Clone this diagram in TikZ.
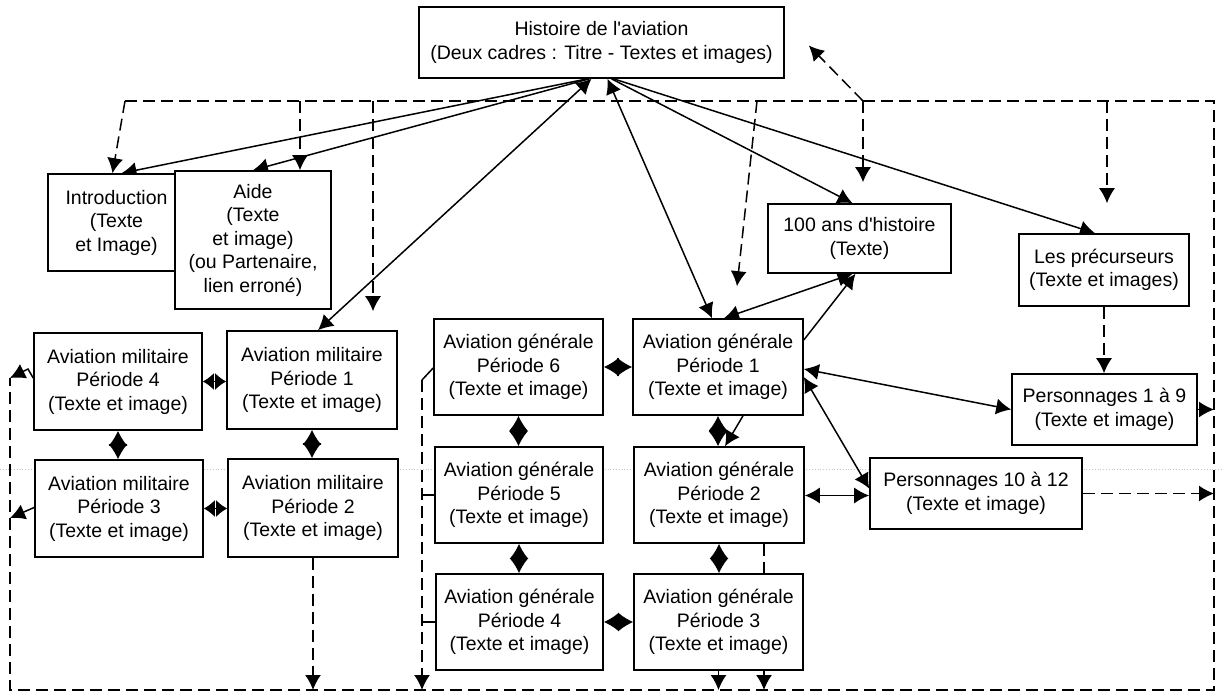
\documentclass[tikz,border=0pt]{standalone}
\usepackage{fontspec}
\setmainfont{Liberation Sans}
\usetikzlibrary{arrows.meta,calc,backgrounds}
\tikzset{
  bigtip/.tip={Latex[length=15pt 0 0,width=16pt 0 0]},
  diatip/.tip={Latex[length=15pt 0 0,width=19pt 0 0]},
  shortdiatip/.tip={Latex[length=11pt 0 0,width=17pt 0 0]},
}
\begin{document}
\begin{tikzpicture}[x=1pt,y=-1pt,
  box/.style={draw, fill=white, line width=1.6pt, align=center, inner sep=1pt,
    font=\fontsize{19.5}{23.5}\selectfont},
  >=bigtip,
  conn/.style={line width=1.5pt},
  dia/.style={conn, diatip-diatip},
  shortdia/.style={conn, shortdiatip-shortdiatip},
  dsh/.style={conn, dash pattern=on 12pt off 6pt},
]
\useasboundingbox (0,0) rectangle (1224,695);

% nodes
\node[box, minimum width=365pt, minimum height=71pt] (top) at (601.5,42.5)
  {Histoire de l\textquotesingle aviation\\(Deux cadres : Titre - Textes et images)};
\node[box, minimum width=137pt, minimum height=97pt] (intro) at (116.5,222.5)
  {Introduction\\(Texte\\et Image)};
\node[box, minimum width=156pt, minimum height=138pt] (aide) at (253,240)
  {Aide\\(Texte\\et image)\\(ou Partenaire,\\lien erroné)};
\node[box, minimum width=183pt, minimum height=69pt] (hans) at (859.5,238.5)
  {100 ans d\textquotesingle histoire\\(Texte)};
\node[box, minimum width=170pt, minimum height=72pt] (prec) at (1104,270)
  {Les précurseurs\\(Texte et images)};
\node[box, minimum width=168pt, minimum height=97pt] (am4) at (118,381.5)
  {Aviation militaire\\Période 4\\(Texte et image)};
\node[box, minimum width=170pt, minimum height=98pt] (am1) at (312,380)
  {Aviation militaire\\Période 1\\(Texte et image)};
\node[box, minimum width=168pt, minimum height=97pt] (am3) at (119,508.5)
  {Aviation militaire\\Période 3\\(Texte et image)};
\node[box, minimum width=170pt, minimum height=98pt] (am2) at (313,508)
  {Aviation militaire\\Période 2\\(Texte et image)};
\node[box, minimum width=169pt, minimum height=96pt] (ag6) at (518.5,367)
  {Aviation générale\\Période 6\\(Texte et image)};
\node[box, minimum width=170pt, minimum height=96pt] (ag1) at (718,367)
  {Aviation générale\\Période 1\\(Texte et image)};
\node[box, minimum width=168pt, minimum height=96pt] (ag5) at (519,495)
  {Aviation générale\\Période 5\\(Texte et image)};
\node[box, minimum width=170pt, minimum height=96pt] (ag2) at (719,495)
  {Aviation générale\\Période 2\\(Texte et image)};
\node[box, minimum width=167pt, minimum height=96pt] (ag4) at (519.5,622)
  {Aviation générale\\Période 4\\(Texte et image)};
\node[box, minimum width=169pt, minimum height=96pt] (ag3) at (718.5,622)
  {Aviation générale\\Période 3\\(Texte et image)};
\node[box, minimum width=185pt, minimum height=71pt] (p19) at (1104.5,409.5)
  {Personnages 1 à 9\\(Texte et image)};
\node[box, minimum width=212pt, minimum height=71pt] (p1012) at (976,493.5)
  {Personnages 10 à 12\\(Texte et image)};

% frame coordinates
\coordinate (fTL) at (125,101);
\coordinate (fTR) at (1214,101);
\coordinate (fBR) at (1214,690);
\coordinate (fBL) at (10,690);
\coordinate (fL) at (10,378);
\coordinate (fa3) at (10,518);
\coordinate (am4k) at (28,369);
\coordinate (d1) at (300,101);
\coordinate (d2) at (373,101);
\coordinate (d3) at (757,101);
\coordinate (d4) at (863,101);
\coordinate (d5) at (1107,101);
\coordinate (gL) at (422,380);

\begin{pgfonlayer}{background}
\fill[white] (0,0) rectangle (1224,695);
\draw[gray!45, dotted, line width=0.8pt] (0,469) -- (1224,469);

% dashed frame
\draw[dsh] (fTL) -- (fTR) -- (fBR) -- (fBL) -- (fL);
\draw[dsh,->] (fTL) -- ([xshift=-4]intro.north);
\draw[dsh,->] (d1) -- (d1 |- aide.north);
\draw[dsh,->,shorten >=19pt] (d2) -- (d2 |- am1.north);
\draw[dsh,->] (d3) -- ([xshift=19,yshift=32]ag1.north);
\draw[dsh,->] (d4) -- ([xshift=24,yshift=-3]top.east);
\draw[dsh,->,shorten >=21pt] (d4) -- (d4 |- hans.north);
\draw[dsh,->,shorten >=30pt] (d5) -- (d5 |- prec.north);
\draw[dsh,->] (prec.south) -- (prec.south |- p19.north);
\draw[conn,->] (p19.east) -- (p19.east -| fTR);
\draw[dsh,->] (p1012.east) -- (p1012.east -| fTR);
\draw[dsh,->] (am2.south) -- (am2.south |- fBL);
\draw[conn,->] ([yshift=1]am3.west) -- (fa3);
\draw[conn,->] ([yshift=3.5]am4.west) -- (am4k) -- (fL);
\draw[conn] ([yshift=-1]ag6.west) -- (gL);
\draw[dsh,->] (gL) -- (gL |- fBL);
\draw[conn] (ag5.west) -- (ag5.west -| gL);
\draw[conn] (ag4.west) -- (ag4.west -| gL);
\draw[dsh,->] ([xshift=45]ag2.south) -- ([xshift=45]ag2.south |- fBL);
\draw[conn,->] (ag3.south) -- (ag3.south |- fBL);

% from the title
\draw[conn,->] ([xshift=-14]top.south) -- ([xshift=5]intro.north);
\draw[conn,->] ([xshift=-12]top.south) -- (aide.north);
\draw[conn,<->] ([xshift=-10]top.south) -- ([xshift=6]am1.north);
\draw[conn,<->] ([xshift=6]top.south) -- ([xshift=-6]ag1.north);
\draw[conn,->] ([xshift=10]top.south) -- ([xshift=-7]hans.north);
\draw[conn,->] ([xshift=12]top.south) -- ([xshift=-9]prec.north);

% around AG1
\draw[conn,<->] ([xshift=6]ag1.north) -- ([xshift=-7]hans.south);
\draw[conn,->] ([yshift=27]ag1.east) -- ([xshift=-4]hans.south);
\draw[conn,<->] ([yshift=-2]ag1.east) -- (p19.west);
\draw[conn,<->] ([yshift=-10]ag1.east) -- ([yshift=5]p1012.west);
\draw[conn,<->] ([yshift=-2]p1012.west) -- ([yshift=-2]p1012.west -| ag2.east);
\draw[conn,->] ([xshift=25]ag1.south) -- ([xshift=6]ag2.north);

% diamonds
\draw[dia] (ag1.south) -- (ag1.south |- ag2.north);
\draw[dia] (ag6.east) -- (ag1.west);
\draw[dia] (ag6.south) -- (ag6.south |- ag5.north);
\draw[dia] (ag5.south) -- (ag5.south |- ag4.north);
\draw[dia] (ag2.south) -- (ag2.south |- ag3.north);
\draw[dia] (ag4.east) -- (ag4.east -| ag3.west);
\draw[shortdia] (am4.east) -- (am4.east -| am1.west);
\draw[dia] (am4.south) -- (am4.south |- am3.north);
\draw[dia] (am1.south) -- (am1.south |- am2.north);
\draw[shortdia] (am3.east) -- (am3.east -| am2.west);
\end{pgfonlayer}
\end{tikzpicture}
\end{document}
